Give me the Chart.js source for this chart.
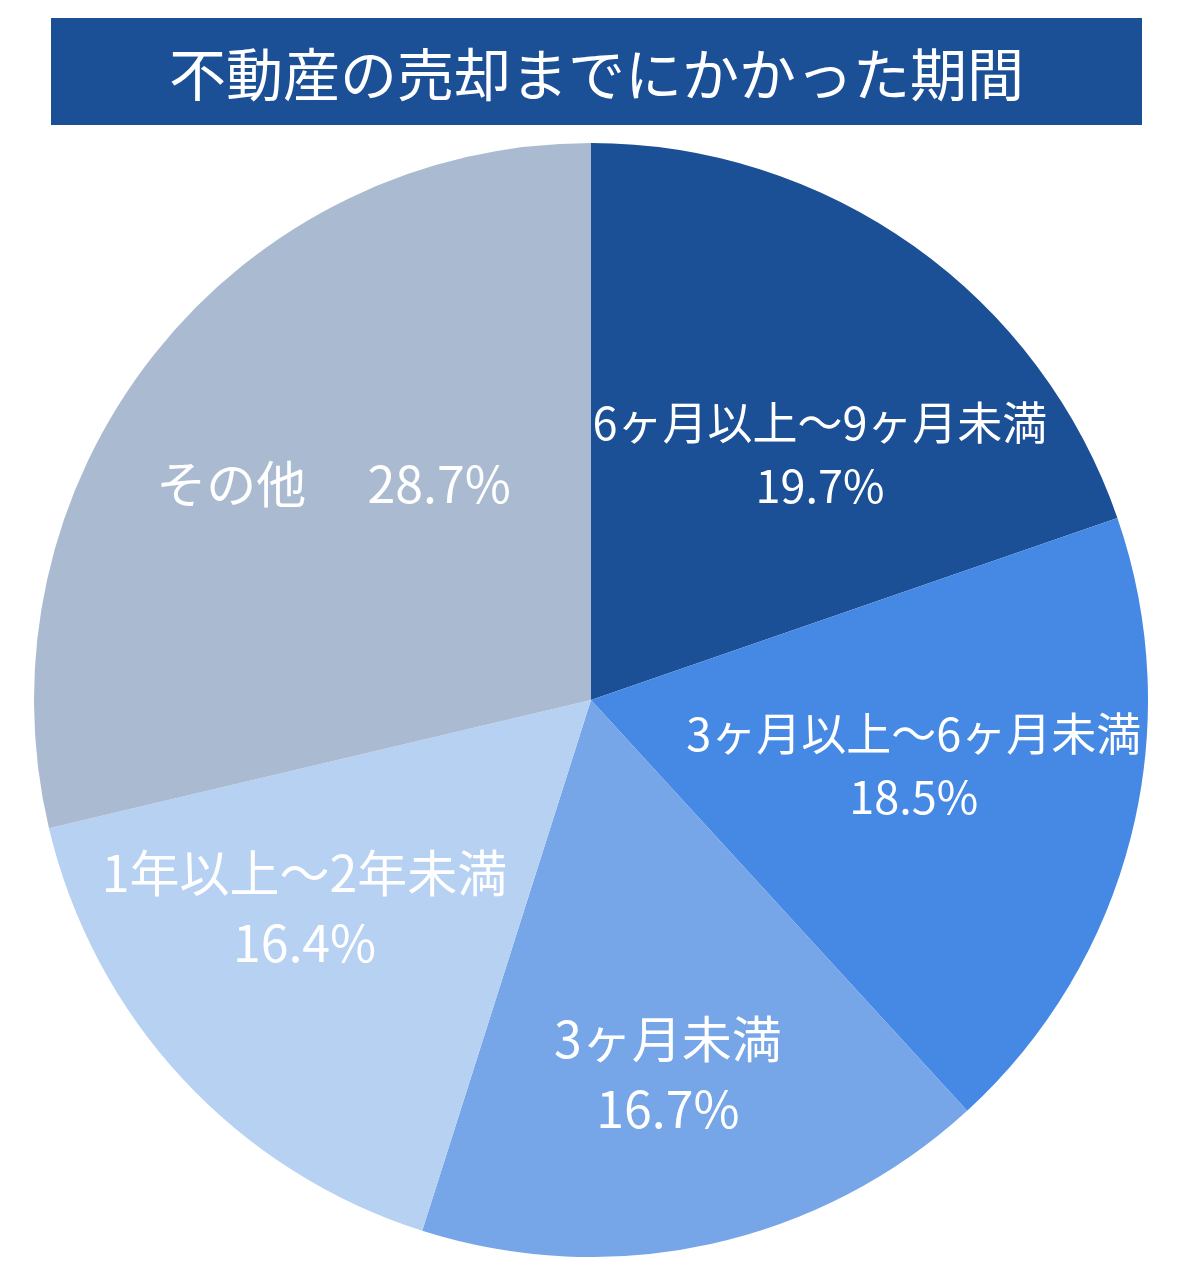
<!DOCTYPE html>
<html lang="ja">
<head>
<meta charset="utf-8">
<script src="https://cdn.jsdelivr.net/npm/chart.js@4"></script>
<style>
  html, body { margin: 0; padding: 0; background: #fff; }
  body { width: 1200px; height: 1283px; position: relative; overflow: hidden;
         font-family: "Noto Sans CJK JP", "Noto Sans", sans-serif; }
  #title { position: absolute; left: 51px; top: 18px; width: 1091px; height: 107px;
           background: #1B4F96; color: #fff; font-size: 57px; line-height: 107px;
           text-align: center; }
  #wrap { position: absolute; left: 34px; top: 143px; width: 1114px; height: 1114px; }
</style>
</head>
<body>
<div id="title">不動産の売却までにかかった期間</div>
<div id="wrap"><canvas id="pieChart"></canvas></div>
<script>
const categories = ["6ヶ月以上〜9ヶ月未満", "3ヶ月以上〜6ヶ月未満", "3ヶ月未満", "1年以上〜2年未満", "その他"];
const shares = [19.7, 18.5, 16.7, 16.4, 28.7];
const colors = ["#1B4F96", "#4689E4", "#76A6E8", "#B7D1F2", "#AABBD1"];

// where each label sits: [angle shift in degrees, fraction of radius], and its font size
const labelPlace = [[7.5, 0.603], [-2.8, 0.591], [0.8, 0.686], [6.8, 0.636], [1.6, 0.603]];
const labelSize = [45, 45, 50, 50, 50];
const singleLine = [false, false, false, false, true];

const sliceLabels = {
  id: "sliceLabels",
  afterDatasetsDraw(chart) {
    const ctx = chart.ctx;
    const meta = chart.getDatasetMeta(0);
    ctx.save();
    ctx.fillStyle = "#fff";
    ctx.textAlign = "center";
    ctx.textBaseline = "middle";
    meta.data.forEach((arc, i) => {
      const p = arc.getProps(["x", "y", "startAngle", "endAngle", "outerRadius"], true);
      const mid = (p.startAngle + p.endAngle) / 2 + labelPlace[i][0] * Math.PI / 180;
      const r = p.outerRadius * labelPlace[i][1];
      const x = p.x + Math.cos(mid) * r;
      const y = p.y + Math.sin(mid) * r;
      const size = labelSize[i];
      ctx.font = size + 'px "Noto Sans CJK JP", sans-serif';
      const pct = shares[i].toFixed(1) + "%";
      if (singleLine[i]) {
        ctx.fillText(categories[i] + "　 " + pct, x, y);
      } else {
        const half = size * 0.7;
        ctx.fillText(categories[i], x, y - half);
        ctx.fillText(pct, x, y + half);
      }
    });
    ctx.restore();
  }
};

new Chart(document.getElementById("pieChart").getContext("2d"), {
  type: "pie",
  data: {
    labels: categories,
    datasets: [{
      data: shares,
      backgroundColor: colors,
      borderWidth: 0
    }]
  },
  options: {
    responsive: true,
    maintainAspectRatio: false,
    animation: false,
    layout: { padding: 0 },
    plugins: {
      legend: { display: false },
      tooltip: { enabled: false }
    }
  },
  plugins: [sliceLabels]
});
</script>
</body>
</html>
